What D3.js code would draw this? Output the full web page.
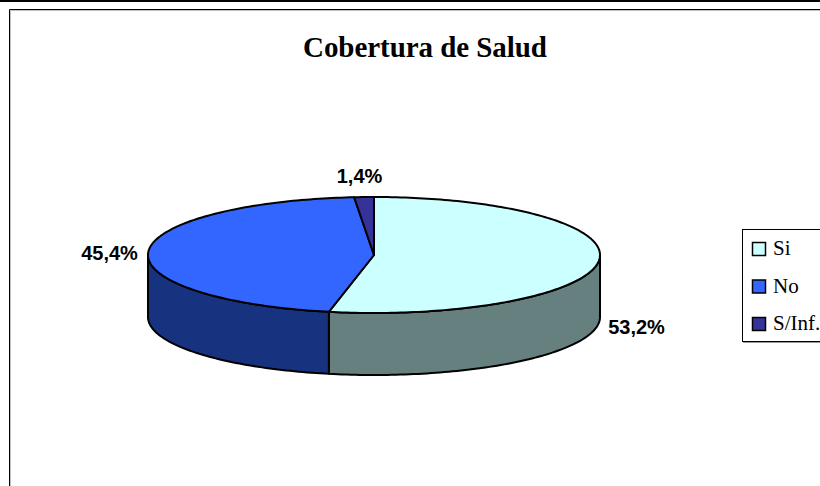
<!DOCTYPE html>
<html><head><meta charset="utf-8">
<script src="https://cdn.jsdelivr.net/npm/d3@7/dist/d3.min.js"></script>
<style>html,body{margin:0;padding:0;background:#fff}svg{display:block}</style>
</head><body><svg id="c" width="820" height="486"></svg>
<script>
const categories = ["Si","No","S/Inf."];
const values = [53.2,45.4,1.4];
const labels = ["53,2%","45,4%","1,4%"];
const topColors = ["#CCFFFF","#3366FF","#333399"];
const sideColors = ["#668080","#173380","#1A1A4D"];

const svg = d3.select("#c");
const cx=374, cy=255, rx=226, ry=58, depth=62;
const px = d3.scaleLinear().domain([-1,1]).range([cx-rx,cx+rx]);
const py = d3.scaleLinear().domain([-1,1]).range([cy-ry,cy+ry]);
const slices = d3.pie().sort(null)(values);
const line = d3.line().x(d=>d[0]).y(d=>d[1]);
const rim = (a,b,dy)=>{const n=Math.max(2,Math.ceil(Math.abs(b-a)/0.02));
  return d3.range(n+1).map(i=>{const t=a+(b-a)*i/n;return [px(Math.sin(t)),py(-Math.cos(t))+dy];});};

// frame
svg.append("path").attr("d","M0,1H820").attr("stroke","#000").attr("stroke-width",2).attr("fill","none");
svg.append("path").attr("d","M10.5,486V10.5H820").attr("stroke","#c0c0c0").attr("fill","none");
svg.append("path").attr("d","M9.5,486V9.5H820").attr("stroke","#000").attr("fill","none");

// title
svg.append("text").attr("x",425).attr("y",57).attr("text-anchor","middle")
  .attr("font-family","'Liberation Serif'").attr("font-weight","bold").attr("font-size",29)
  .attr("textLength",244).attr("lengthAdjust","spacing").attr("fill","#000").text("Cobertura de Salud");

// side walls (front half only)
slices.forEach((s,i)=>{
  const a=Math.max(s.startAngle,Math.PI/2), b=Math.min(s.endAngle,Math.PI*1.5);
  if(b<=a) return;
  const up=rim(a,b,0), down=rim(b,a,depth);
  svg.append("path").attr("d",line(up.concat(down))+"Z")
    .attr("fill",sideColors[i]).attr("stroke","#000").attr("stroke-width",2).attr("stroke-linejoin","round");
});
// top faces
slices.forEach((s,i)=>{
  svg.append("path").attr("d",line([[cx,cy]].concat(rim(s.startAngle,s.endAngle,0)))+"Z")
    .attr("fill",topColors[i]).attr("stroke","#000").attr("stroke-width",2).attr("stroke-linejoin","round");
});

// data labels
const labelPos=[[636.5,333.5],[109.5,259.5],[359.5,182.5]];
labels.forEach((t,i)=>svg.append("text").attr("x",labelPos[i][0]).attr("y",labelPos[i][1])
  .attr("text-anchor","middle").attr("font-family","'Liberation Sans'").attr("font-weight","bold")
  .attr("font-size",20).attr("fill","#000").text(t));

// legend
svg.append("rect").attr("x",742.5).attr("y",229.5).attr("width",90).attr("height",112)
  .attr("fill","#fff").attr("stroke","#000");
svg.append("path").attr("d","M743,342.5H820").attr("stroke","#999");
const ly=d3.scalePoint().domain(categories).range([249,324]);
categories.forEach((c,i)=>{
  const y=ly(c);
  svg.append("rect").attr("x",752.5).attr("y",y-6.5).attr("width",13).attr("height",13)
    .attr("fill",topColors[i]).attr("stroke","#000").attr("stroke-width",1.5);
  svg.append("text").attr("x",773).attr("y",y+6).attr("font-family","'Liberation Serif'")
    .attr("font-size",21).attr("fill","#000").text(c);
});
</script></body></html>
